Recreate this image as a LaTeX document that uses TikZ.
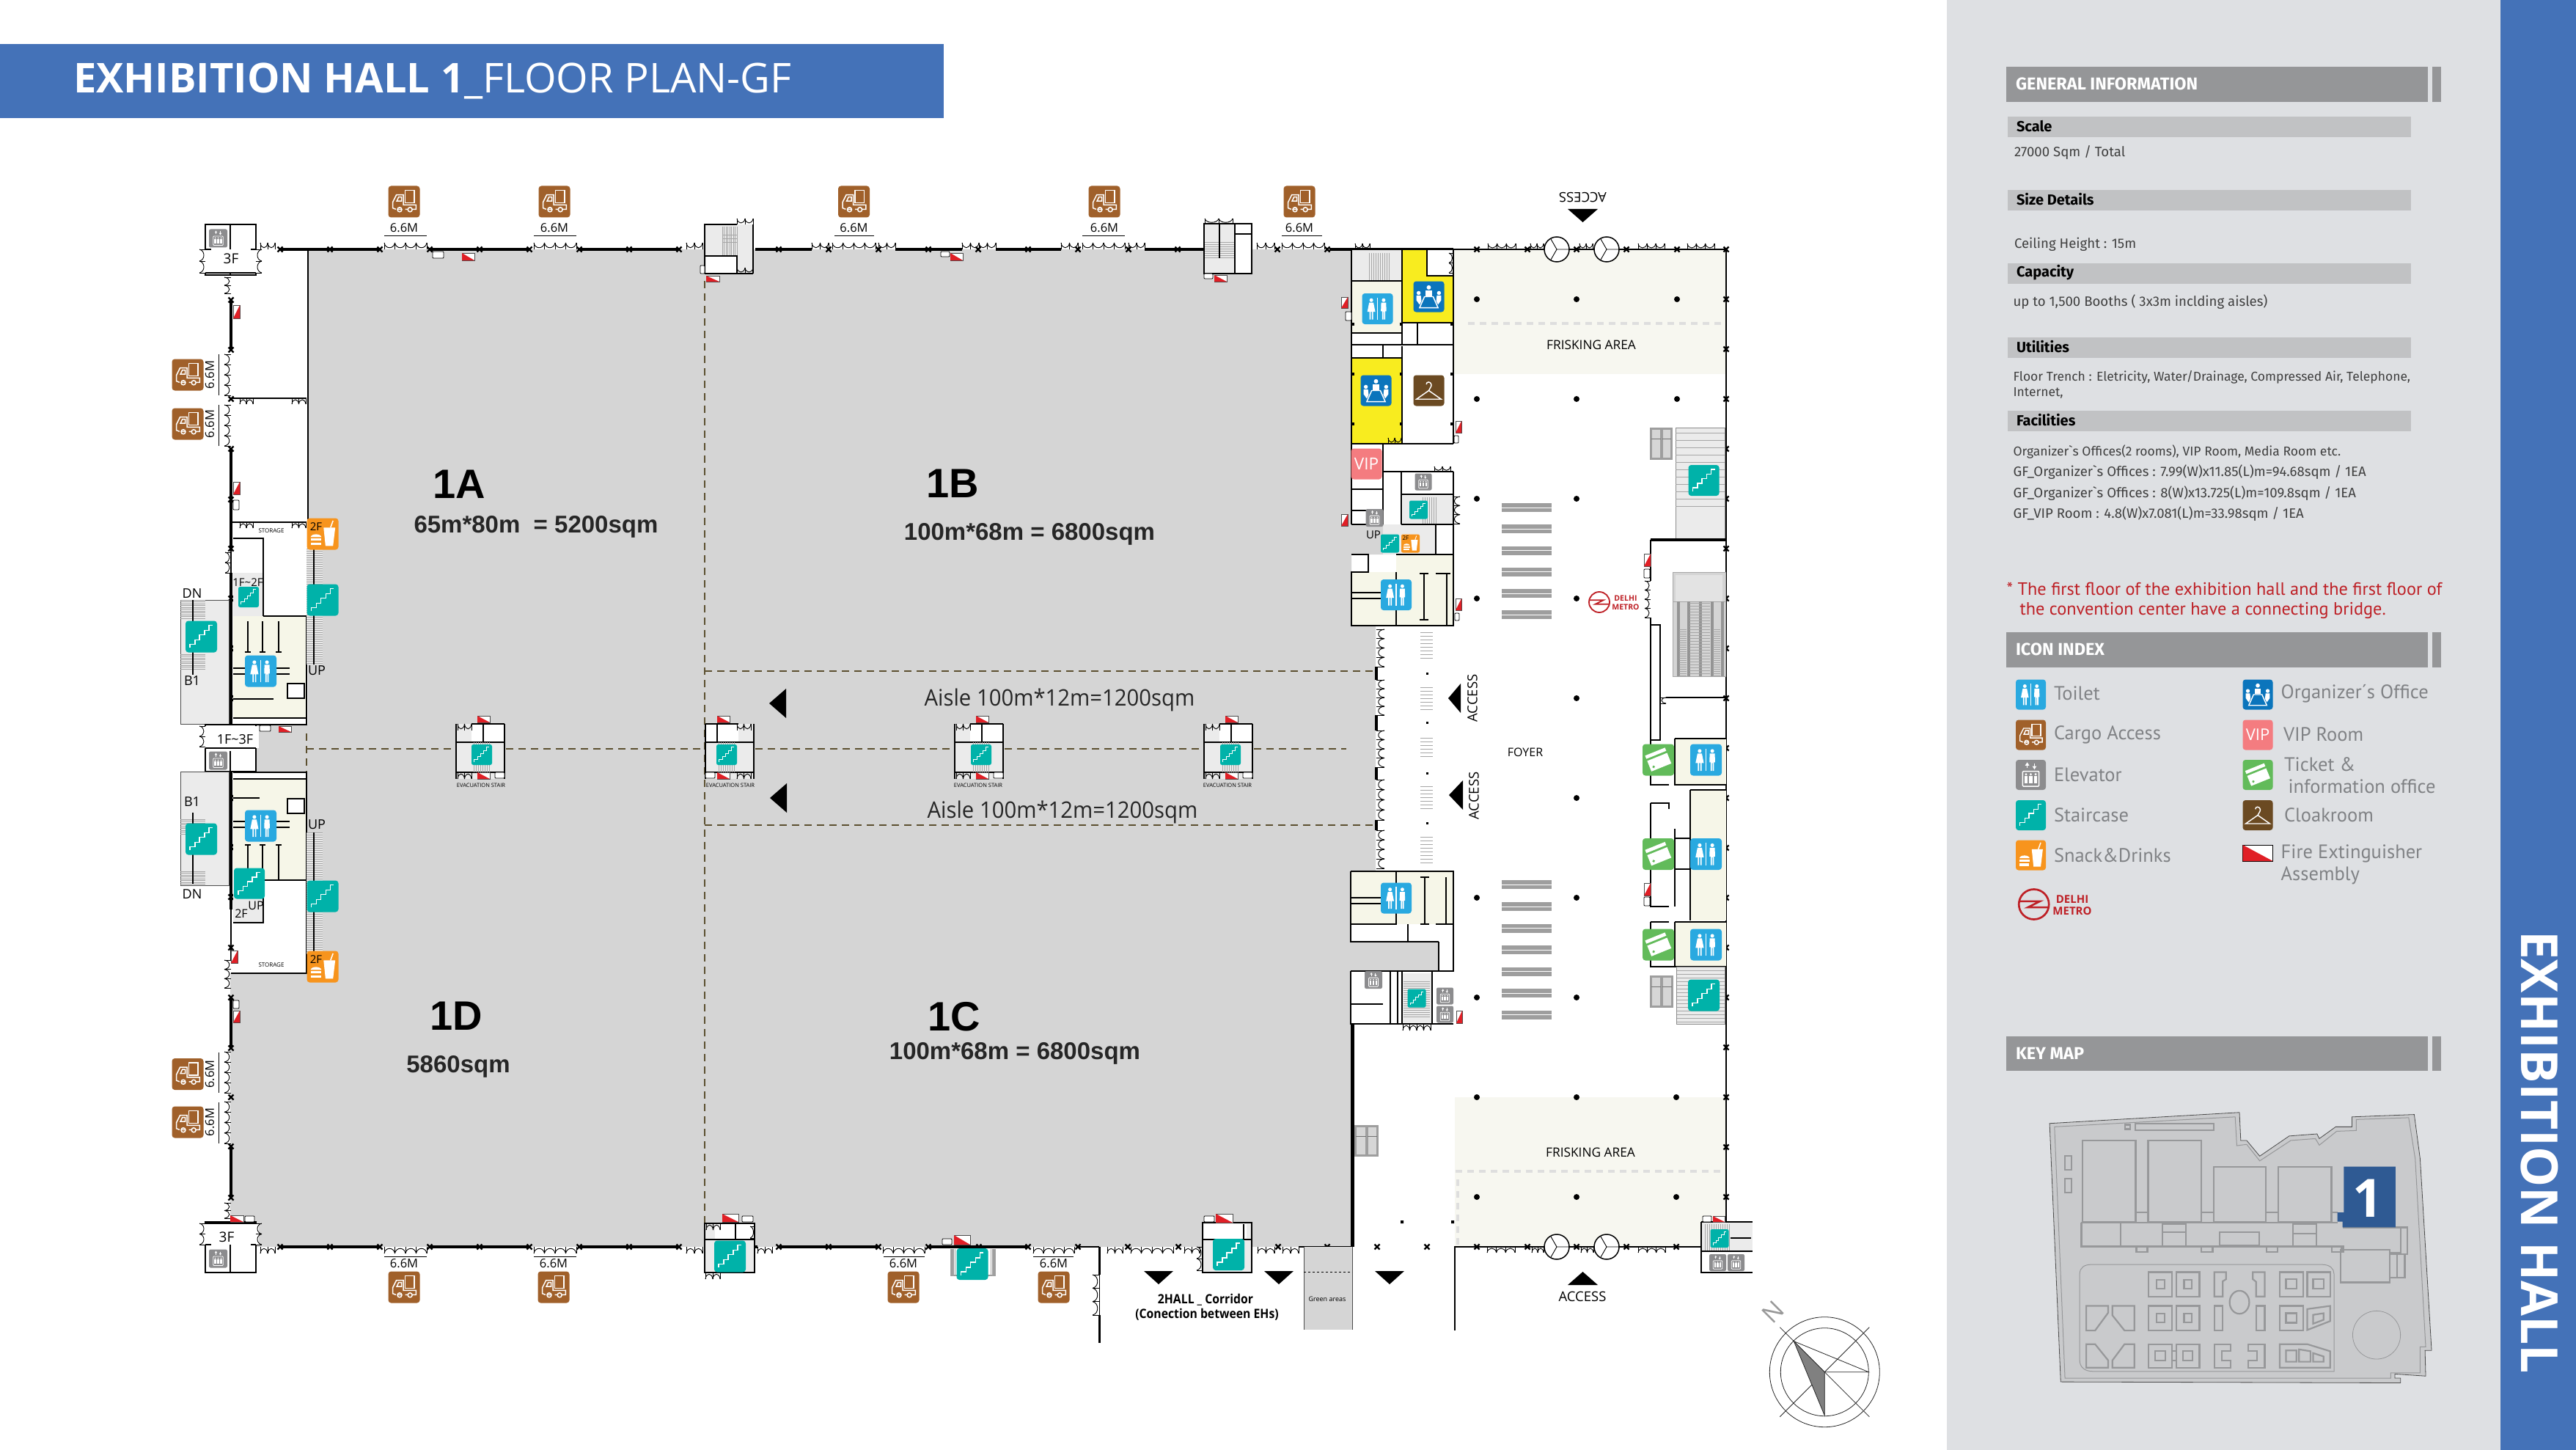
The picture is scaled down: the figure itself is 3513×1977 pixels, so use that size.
\documentclass[tikz,border=0pt]{standalone}
\usepackage{fontspec}
\setmainfont{Open Sans}
\newfontfamily\hallfont{Liberation Sans}
\newfontfamily\panelfont{Fira Sans}
\newfontfamily\notefont{PT Sans}
\usetikzlibrary{arrows}

\definecolor{barblue}{HTML}{4472B8}
\definecolor{panelgrey}{HTML}{DEE0E3}
\definecolor{headgrey}{HTML}{959698}
\definecolor{subgrey}{HTML}{C1C2C4}
\definecolor{hallgrey}{HTML}{D5D5D5}
\definecolor{paleroom}{HTML}{EBEBEB}
\definecolor{creamroom}{HTML}{F6F6E8}
\definecolor{friskcream}{HTML}{F7F7F0}
\definecolor{officeyellow}{HTML}{F8EC1F}
\definecolor{dashbrown}{HTML}{5C5030}
\definecolor{toiletblue}{HTML}{29A9E0}
\definecolor{officeblue}{HTML}{0B75BC}
\definecolor{cargobrown}{HTML}{A0602A}
\definecolor{cloakbrown}{HTML}{6B4A22}
\definecolor{lifgrey}{HTML}{8C8C8E}
\definecolor{stairteal}{HTML}{00B2A9}
\definecolor{snackorange}{HTML}{F7941D}
\definecolor{vippink}{HTML}{F47C80}
\definecolor{ticketgreen}{HTML}{62BB5A}
\definecolor{firered}{HTML}{E01F26}
\definecolor{metrored}{HTML}{BE2026}
\definecolor{mapgrey}{HTML}{C9CACC}
\definecolor{mapline}{HTML}{97989A}
\definecolor{mapblue}{HTML}{2F5A93}
\definecolor{legendtext}{HTML}{808285}

\newcommand{\fsz}[1]{\fontsize{#1}{#1}\selectfont}

\tikzset{
  wall/.style={black,line width=1.5},
  thickwall/.style={black,line width=4.5},
  doorline/.style={black,line width=.9},
  aisle/.style={dashbrown,line width=2.4,dash pattern=on 10pt off 7pt},
  frisk/.style={black!13,line width=4,dash pattern=on 9pt off 7pt},
  hatch/.style={black!35,line width=.6},
  colmark/.style={black,line width=2.2},
  plain/.style={inner sep=0pt,outer sep=0pt},
  hallname/.style={plain,font=\hallfont\bfseries\fsz{56}},
  hallsize/.style={plain,font=\hallfont\bfseries\fsz{33},text=black!85},
  aisletext/.style={plain,font=\fsz{31},xscale=.945,text=black!85},
  width66/.style={plain,font=\fsz{16.5}},
  tag/.style={plain,font=\fsz{15}},
  smalltag/.style={plain,font=\fsz{8}},
  headtext/.style={plain,anchor=west,font=\panelfont\bfseries\fsz{23.5},text=white},
  subtext/.style={plain,anchor=west,font=\panelfont\bfseries\fsz{20},text=black},
  infotext/.style={plain,anchor=west,font=\panelfont\fsz{17.5},text=black!75},
  infonum/.style={infotext,font=\panelfont\fsz{18.6}},
  legend/.style={plain,anchor=west,font=\notefont\fsz{26.5},text=legendtext},
  redtext/.style={plain,anchor=west,font=\notefont\fsz{24.3},text=metrored},
}

% tiles of the icon index, drawn in a box -.5..+.5 around the centre
\newcommand{\icontoilet}{
  \fill[toiletblue,rounded corners=\tilerad] (-.5,-.5) rectangle (.5,.5);
  \fill[white] (-.2,-.28) circle (.06) (.2,-.28) circle (.06);
  \fill[white] (-.27,-.2)--(-.13,-.2)--(-.07,.1)--(-.14,.1)--(-.14,.35)--(-.18,.35)--(-.18,.1)--(-.22,.1)--(-.22,.35)--(-.26,.35)--(-.26,.1)--(-.33,.1)--cycle;
  \fill[white] (.12,-.2)--(.28,-.2)--(.29,.08)--(.25,.08)--(.25,.35)--(.21,.35)--(.21,.1)--(.19,.1)--(.19,.35)--(.15,.35)--(.15,.08)--(.11,.08)--cycle;
  \fill[white] (-.02,-.36) rectangle (.02,.36);
}
\newcommand{\iconcargo}{
  \fill[cargobrown,rounded corners=\tilerad] (-.5,-.5) rectangle (.5,.5);
  \draw[white] (.04,-.36) rectangle (.33,.04);
  \draw[white] (-.08,.24)--(-.2,.24) (-.26,.24)--(-.36,.2)--(-.36,.02)--(-.24,-.22)--(-.02,-.22)--(-.02,.1)--(.38,.1)--(.38,.24)--(.24,.24) (.14,.24)--(.04,.24);
  \draw[white] (-.23,-.02)--(-.17,-.15)--(-.08,-.15)--(-.08,-.02)--cycle;
  \draw[white] (-.14,.25) circle (.07) (.19,.25) circle (.07);
}
\newcommand{\iconlift}{
  \fill[lifgrey,rounded corners=\tilerad] (-.5,-.5) rectangle (.5,.5);
  \draw[white,rounded corners=1pt] (-.27,-.12) rectangle (.27,.38);
  \draw[white] (-.12,-.22)--(-.12,-.38) (.12,-.38)--(.12,-.22);
  \fill[white] (-.12,-.42)--(-.19,-.31)--(-.05,-.31)--cycle (.12,-.18)--(.05,-.29)--(.19,-.29)--cycle;
  \foreach \px in {-.16,0,.16} {
    \fill[white] (\px,-.02) circle (.04);
    \fill[white] (\px-.05,.03) rectangle (\px+.05,.28);
  }
}
\newcommand{\iconstair}{
  \fill[stairteal,rounded corners=\tilerad] (-.5,-.5) rectangle (.5,.5);
  \draw[white] (-.36,.36)--(-.36,.24)--(-.2,.24)--(-.2,.1)--(-.06,.1)--(-.06,-.06)--(.1,-.06)--(.1,-.2)--(.24,-.2)--(.24,-.36)--(.36,-.36);
}
\newcommand{\iconsnack}{
  \fill[snackorange,rounded corners=\tilerad] (-.5,-.5) rectangle (.5,.5);
  \fill[white] (.03,-.2)--(.4,-.2)--(.33,.38)--(.09,.38)--cycle;
  \draw[white] (.25,-.2)--(.33,-.42);
  \fill[white] (-.38,.1) .. controls (-.36,-.02) and (-.06,-.02) .. (-.04,.1)--cycle;
  \fill[white] (-.38,.15) rectangle (-.04,.22);
  \fill[white] (-.37,.27) rectangle (-.05,.36);
}
\newcommand{\iconoffice}{
  \fill[officeblue,rounded corners=\tilerad] (-.5,-.5) rectangle (.5,.5);
  \fill[white] (0,-.3) circle (.07) (-.33,-.12) circle (.065) (.33,-.12) circle (.065);
  \fill[white] (-.1,-.2) rectangle (.1,-.02);
  \draw[white] (-.14,.0)--(.14,.0)--(.3,.36)--(-.3,.36)--cycle;
  \fill[white] (-.4,-.04)--(-.26,-.04)--(-.24,.14)--(-.3,.26)--(-.4,.12)--cycle;
  \fill[white] (.4,-.04)--(.26,-.04)--(.24,.14)--(.3,.26)--(.4,.12)--cycle;
}
\newcommand{\iconvip}{
  \fill[vippink,rounded corners=\tilerad] (-.5,-.5) rectangle (.5,.5);
  \node[plain,text=white,font=\fsz{22},scale=\tilescale] at (0,0) {VIP};
}
\newcommand{\iconticket}{
  \fill[ticketgreen,rounded corners=\tilerad] (-.5,-.5) rectangle (.5,.5);
  \begin{scope}[rotate=22]
    \fill[white] (-.34,-.28) rectangle (.34,-.17);
    \fill[white] (-.34,-.1) rectangle (.34,.26);
    \fill[ticketgreen] (-.22,.15) circle (.045);
  \end{scope}
}
\newcommand{\iconcloak}{
  \fill[cloakbrown,rounded corners=\tilerad] (-.5,-.5) rectangle (.5,.5);
  \draw[white] (0,.0)--(-.4,.28)--(.4,.28)--cycle;
  \draw[white] (0,.0) .. controls (.02,-.08) and (.1,-.12) .. (.08,-.2) .. controls (.06,-.3) and (-.08,-.3) .. (-.08,-.2);
}
\newcommand{\icon}[4]{
  \begin{scope}[shift={(#2,#3)},x=#4pt,y=-#4pt,line width=#4*0.035pt]
    \pgfmathsetlengthmacro\tilerad{#4*0.09}
    \pgfmathsetmacro\tilescale{#4/41}
    \csname icon#1\endcsname
  \end{scope}
}
% 2F lettering of the snack tiles
\newcommand{\snackfloor}[3]{\node[plain,font=\fsz{#3}] at (#1,#2) {2F};}

% fire extinguisher flags and their small boxes
\newcommand{\fireh}[4]{
  \draw[draw=black!70,fill=white,line width=.8] (#1,#2) rectangle ++(#3,#4);
  \fill[firered] (#1,#2)--(#1,#2+#4)--(#1+#3,#2+#4)--cycle;
}
\newcommand{\firev}[4]{
  \draw[draw=black!70,fill=white,line width=.8] (#1,#2) rectangle ++(#3,#4);
  \fill[firered] (#1+#3,#2)--(#1+#3,#2+#4)--(#1,#2+#4)--cycle;
}
\newcommand{\tinybox}[4]{\draw[draw=black,fill=white,line width=.9,rounded corners=1pt] (#1,#2) rectangle ++(#3,#4);}

% rows of door leaves, the cusps stand #5 off the wall
\newcommand{\doorh}[5]{
  \pgfmathsetmacro\da{#1}
  \pgfmathsetmacro\db{#2}
  \foreach \i in {1,...,#4} {
    \pgfmathsetmacro\xa{\da+(\i-1)*(\db-\da)/#4}
    \pgfmathsetmacro\xb{\da+\i*(\db-\da)/#4}
    \draw[doorline] (\xa,#3+#5) .. controls (\xa+.1*\xb-.1*\xa,#3) and (\xb-.1*\xb+.1*\xa,#3) .. (\xb,#3+#5);
    \draw[doorline] (\xa,#3)--(\xa,#3+#5);
  }
  \draw[doorline] (\db,#3)--(\db,#3+#5);
}
\newcommand{\doorv}[5]{
  \foreach \i in {1,...,#4} {
    \pgfmathsetmacro\ya{#2+(\i-1)*(#3-#2)/#4}
    \pgfmathsetmacro\yb{#2+\i*(#3-#2)/#4}
    \draw[doorline] (#1+#5,\ya) .. controls (#1,\ya+.1*\yb-.1*\ya) and (#1,\yb-.1*\yb+.1*\ya) .. (#1+#5,\yb);
    \draw[doorline] (#1,\ya)--(#1+#5,\ya);
  }
  \draw[doorline] (#1,#3)--(#1+#5,#3);
}
\newcommand{\colmarkat}[2]{\draw[colmark] (#1-3.5,#2-3.5)--(#1+3.5,#2+3.5) (#1+3.5,#2-3.5)--(#1-3.5,#2+3.5); \fill (#1-2,#2-2) rectangle ++(4,4);}
\newcommand{\hatchh}[5]{\foreach \hy in {#2,#5,...,#4} {\draw[hatch] (#1,\hy)--(#3,\hy);}}
\newcommand{\hatchv}[5]{\foreach \hx in {#1,#5,...,#3} {\draw[hatch] (\hx,#2)--(\hx,#4);}}

% a stair box standing in the aisle
\newcommand{\evacunit}[6]{
  \fill[paleroom] (#1,987) rectangle ++(66,75);
  \fill[white] (#1+#2,988) rectangle ++(45,24);
  \draw[wall] (#1+#2+16,988)--(#1+#2+16,1012);
  \draw[black,line width=2] (#1,987)--(#1,1062) (#1+66,987)--(#1+66,1062);
  \draw[black,line width=2] (#1+#2,987)--(#1+#2+45,987) (#1,1012)--(#1+66,1012);
  \draw[black,line width=2] (#1,1053)--(#1+66,1053);
  \foreach \hx in {-11,-8,...,11} {\draw[hatch] (#1+#6+\hx,1012)--(#1+#6+\hx,1053);}
  \icon{stair}{#1+#6}{1029}{28}
  \doorh{#1+#3}{#1+#3+19}{996}{2}{-9}
  \doorh{#1+#3}{#1+#3+19}{1053}{2}{9}
  \fireh{#1+#4}{976}{17}{9}
  \fireh{#1+#4}{1053}{17}{9}
  \tinybox{#1+#5}{1053}{13}{8}
}
% escalator pair in the foyer
\newcommand{\escalator}[4]{
  \fill[black!38] (#1,#2) rectangle ++(#3,#4);
  \fill[black!16] (#1+3,#2+3) rectangle ++(#3*.5-5,#4-6);
  \fill[black!16] (#1+#3*.5+2,#2+3) rectangle ++(#3*.5-5,#4-6);
  \draw[black!55,line width=.6] (#1+2,#2+#4*.35)--++(#3*.5-3,0) (#1+#3*.5+1,#2+#4*.35)--++(#3*.5-3,0);
}
\newcommand{\metromark}[3]{
  \begin{scope}[shift={(#1,#2)},x=#3pt,y=-#3pt,line width=#3*0.13pt,metrored]
    \draw (0,0) circle (1);
    \draw (-1,-.2)--(.4,-.2)--(-.4,.2)--(1,.2);
  \end{scope}
}

\begin{document}
\begin{tikzpicture}[x=1pt,y=-1pt]
\useasboundingbox (0,0) rectangle (3513,1977);
\fill[white] (0,0) rectangle (3513,1977);

% Header and side bars
\fill[barblue] (0,60) rectangle (1287,161);
\node[plain,anchor=west,text=white,font=\fsz{56}] (hallTitle) at (100,111) {\textbf{EXHIBITION HALL 1}\_FLOOR PLAN-GF};
\fill[panelgrey] (2655,0) rectangle (3410,1977);
\fill[barblue] (3410,0) rectangle (3513,1977);
\node[plain,rotate=-90,text=white,font=\bfseries\fsz{69.5}] (sideTitle) at (3463,1571) {EXHIBITION HALL};

% Hall floor
\fill[hallgrey] (420,340)--(1843,340)--(1843,715)--(1958,715)--(1958,756)--(1843,756)--(1843,853)--(1876,853)--(1876,1188)--(1842,1188)--(1842,1284)--(1962,1284)--(1962,1324)--(1842,1324)--(1842,1396)--(1844,1396)--(1844,1700)--(314,1700)--(314,1327)--(418,1327)--(418,1052)--(348,1052)--(348,988)--(420,988)--cycle;
\fill[friskcream] (1982,341) rectangle (2354,510);
\fill[friskcream] (1984,1496) rectangle (2354,1700);
\draw[frisk] (2002,441)--(2350,441);
\draw[frisk] (1985,1597)--(2347,1597);
\draw[frisk] (1988,1608)--(1988,1697);

% Aisle dashes
\draw[aisle] (961,383)--(961,1668);
\draw[aisle] (961,915)--(1876,915);
\draw[aisle] (961,1125)--(1876,1125);
\draw[aisle] (418,1021)--(1836,1021);
\draw[aisle] (418,1000)--(418,1052);

% North and south walls of the hall
\foreach \wa/\wb in {382/518,586/722,790/926,1030/1107,1221/1312,1358/1447,1561/1641,1813/1912} {\draw[thickwall] (\wa,340)--(\wb,340);}
\foreach \wa/\wb in {382/518,586/722,790/926,1029/1033,1062/1198,1266/1402} {\draw[thickwall] (\wa,1700)--(\wb,1700);}
\draw[thickwall] (315,409)--(315,477) (315,612)--(315,748) (315,781)--(315,988) (315,1052)--(315,1240) (315,1360)--(315,1429) (315,1563)--(315,1633);
\draw[wall] (315,748)--(315,781) (315,1240)--(315,1309) (1470,1700)--(1499,1700) (1771,1700)--(1844,1700);
\foreach \dx in {382,450,518,586,654,722,790,858,926,1062,1130,1198,1266,1334,1402,1470,1539,1606,1742,1810} {\colmarkat{\dx}{340}}
\foreach \dx in {382,450,518,586,654,722,790,858,926,1062,1130,1198,1266,1335,1402,1470,1538,1607,1743,1810} {\colmarkat{\dx}{1700}}
\foreach \dy in {409,477,544,612,681,748,816,884,952} {\colmarkat{315}{\dy}}
\foreach \dy in {1088,1155,1223,1292,1360,1429,1496,1563,1633} {\colmarkat{315}{\dy}}

\doorh{355}{375}{340}{2}{-9}
\doorh{524}{582}{340}{4}{-9}
\doorh{728}{786}{340}{4}{-9}
\doorh{936}{958}{340}{2}{-9}
\doorh{1107}{1130}{340}{2}{-9}
\doorh{1135}{1194}{340}{4}{-9}
\doorh{1198}{1221}{340}{2}{-9}
\doorh{1312}{1358}{340}{4}{-9}
\doorh{1447}{1470}{340}{2}{-9}
\doorh{1476}{1534}{340}{4}{-9}
\doorh{1539}{1561}{340}{2}{-9}
\doorh{1714}{1738}{340}{2}{-9}
\doorh{1748}{1806}{340}{4}{-9}
\doorh{355}{375}{1700}{2}{9}
\doorh{524}{582}{1700}{4}{9}
\doorh{728}{786}{1700}{4}{9}
\doorh{936}{958}{1700}{2}{9}
\doorh{1033}{1053}{1700}{2}{9}
\doorh{1204}{1261}{1700}{4}{9}
\doorh{1409}{1465}{1700}{4}{9}
\doorh{1510}{1531}{1700}{2}{9}
\doorh{1542}{1600}{1700}{4}{9}
\doorh{1615}{1636}{1700}{2}{9}
\doorh{1715}{1738}{1700}{2}{9}
\doorh{1749}{1771}{1700}{2}{9}
\doorv{315}{378}{400}{2}{-9}
\doorv{315}{483}{539}{4}{-9}
\doorv{315}{552}{608}{4}{-9}
\doorv{315}{753}{781}{2}{-8}
\doorv{315}{1309}{1347}{3}{-9}
\doorv{315}{1434}{1490}{4}{-9}
\doorv{315}{1502}{1559}{4}{-9}
\doorv{315}{1640}{1661}{2}{-9}

% Corner lift boxes
\foreach \cy/\cb/\ce in {306/375/325,1666/1735/1716} {
  \draw[black,line width=2.5,fill=white] (280,\cy) rectangle (349,\cb);
  \draw[wall] (314,\cy)--(314,\cb);
  \icon{lift}{297.5}{\ce}{25}
}
\fill[white] (276,340) rectangle (353,372);
\fill[white] (276,1668) rectangle (353,1697);
\draw[wall] (280,372)--(349,372) (280,340)--(288,340) (342,340)--(349,340);
\draw[wall] (280,1668)--(349,1668) (280,1697)--(288,1697) (342,1697)--(349,1697);
\doorv{280}{340}{372}{2}{-8}
\doorv{349}{340}{372}{2}{8}
\doorv{280}{1668}{1697}{2}{-8}
\doorv{349}{1668}{1697}{2}{8}
\node[tag,font=\fsz{19}] (cornerTopF) at (315,353) {3F};
\node[tag,font=\fsz{19}] (cornerLowF) at (309,1687) {3F};

% West rooms, north half
\draw[wall] (420,340)--(420,708);
\draw[wall] (315,543)--(418,543) (315,712)--(418,712);
\doorh{327}{345}{543}{2}{8}
\doorh{398}{417}{543}{2}{8}
\doorh{327}{345}{712}{2}{8}
\doorh{398}{417}{712}{2}{8}
\node[smalltag] (storeTop) at (370,723.5) {STORAGE};
\fill[paleroom] (318,781) rectangle (359,847);
\draw[wall] (318,734)--(359,734)--(359,847)--(318,847);
\node[tag,font=\fsz{15}] (stairNoteA) at (338,794) {1F\textasciitilde2F};
\icon{stair}{339}{814}{28}
\fill[creamroom] (318,840) rectangle (418,988);
\fill[white] (318,979) rectangle (418,987);
\fill[white] (392,932) rectangle (415,952);
\draw[wall] (359,840)--(418,840)--(418,988)--(318,988) (318,979)--(418,979);
\draw[wall] (392,932) rectangle (415,952);
\draw[wall] (318,953)--(373,953) (318,911)--(395,911) (318,919)--(395,919);
\foreach \lx in {338,358,380} {\draw[wall] (\lx,847)--(\lx,889) (\lx-4,889)--(\lx+4,889);}
\fill[white!70!black!30] (418,748) rectangle (440,906);
\hatchh{418}{748}{440}{906}{751}
\draw[wall] (428,748)--(428,906);
\fill[paleroom] (246,818) rectangle (312,987);
\draw[black!70,line width=.8] (246,818) rectangle (312,987);
\hatchh{246}{818}{280}{844}{820.5}
\hatchh{246}{892}{280}{912}{894.5}
\draw[wall] (263,818)--(263,920);
\icon{stair}{274.5}{868}{43}
\icon{toilet}{355.5}{915}{43}
\icon{stair}{440}{818}{43}
\icon{snack}{440}{728}{43}
\snackfloor{431}{718}{15}
\node[tag,font=\fsz{18}] (upA) at (432,914) {UP};
\node[tag,font=\fsz{18}] (dnA) at (262,809) {DN};
\node[tag,font=\fsz{18}] (bA) at (262,928) {B1};

% West rooms, middle lift box
\draw[black,line width=2.5,fill=white] (280,988) rectangle (349,1052);
\draw[wall] (314,1024)--(314,1052);
\fill[white] (276,990) rectangle (353,1020);
\draw[wall] (280,1020)--(349,1020);
\doorv{280}{990}{1018}{2}{-8}
\icon{lift}{297.5}{1037}{25}
\node[tag,font=\fsz{18}] (stairNoteB) at (320.5,1008) {1F\textasciitilde3F};

% West rooms, south half
\fill[creamroom] (318,1053) rectangle (418,1200);
\fill[white] (318,1053) rectangle (418,1062);
\fill[white] (392,1089) rectangle (415,1109);
\draw[wall] (318,1053)--(418,1053)--(418,1327)--(315,1327) (318,1062)--(418,1062);
\draw[wall] (392,1089) rectangle (415,1109);
\draw[wall] (318,1088)--(354,1088) (318,1120)--(395,1120) (318,1128)--(395,1128) (359,1200)--(418,1200);
\foreach \lx in {338,358,380} {\draw[wall] (\lx,1152)--(\lx,1200) (\lx-4,1152)--(\lx+4,1152);}
\fill[paleroom] (318,1200) rectangle (359,1258);
\draw[wall] (359,1200)--(359,1258)--(318,1258);
\fill[white!70!black!30] (418,1135) rectangle (440,1301);
\hatchh{418}{1135}{440}{1301}{1138}
\draw[wall] (428,1135)--(428,1301);
\fill[paleroom] (246,1052) rectangle (312,1207);
\draw[black!70,line width=.8] (246,1052) rectangle (312,1207);
\hatchh{246}{1117}{280}{1137}{1119.5}
\hatchh{246}{1188}{280}{1207}{1190.5}
\draw[wall] (263,1108)--(263,1205);
\icon{stair}{274.5}{1144}{43}
\icon{toilet}{355.5}{1126}{43}
\icon{stair}{340}{1204.5}{42}
\icon{stair}{440}{1222}{43}
\icon{snack}{440}{1318}{43}
\snackfloor{431}{1308}{15}
\node[tag,font=\fsz{18}] (upB) at (432,1124) {UP};
\node[tag,font=\fsz{16}] (upC) at (349,1235) {UP};
\node[tag,font=\fsz{16}] (floorB) at (329,1246) {2F};
\node[tag,font=\fsz{18}] (dnB) at (262,1219) {DN};
\node[tag,font=\fsz{18}] (bB) at (262,1093) {B1};
\node[smalltag] (storeLow) at (370,1316) {STORAGE};

% Fire points of the west side
\firev{318}{416}{9}{18}
\firev{318}{657}{9}{17}
\tinybox{318}{682}{8}{13}
\firev{315}{1296}{9}{17}
\firev{318}{1378}{9}{16}
\tinybox{318}{1364}{8}{11}
\fireh{314}{1657}{18}{9}
\tinybox{334}{1658}{13}{8}
\fireh{380}{990}{17}{8}
\tinybox{354}{989}{15}{8}

% Stair boxes of the north wall
\fill[paleroom] (961,306) rectangle (1027,373);
\fill[white] (963,349) rectangle (1005,373);
\hatchv{985}{309}{1005}{349}{987.5}
\hatchh{985}{320}{1005}{330}{325}
\draw[black,line width=2] (961,373)--(961,306)--(1005,306) (1027,306)--(1027,373) (961,373)--(1027,373) (961,349)--(1005,349)--(1005,373);
\doorh{1005}{1027}{306}{2}{-8}
\doorh{1005}{1027}{373}{2}{-8}
\fireh{963}{376}{18}{8}
\tinybox{955}{362}{6}{11}
\fill[paleroom] (1642,305) rectangle (1707,373);
\fill[white] (1685,305) rectangle (1707,373);
\hatchh{1642}{330}{1684}{352}{333}
\draw[black,line width=2] (1642,305) rectangle (1707,373);
\draw[black,line width=2] (1684,305)--(1684,373) (1684,319)--(1707,319);
\draw[wall] (1663,305)--(1663,352);
\doorh{1643}{1681}{305}{2}{-7}
\fireh{1656}{375}{17}{9}
\tinybox{1642}{373}{12}{7}
\fireh{630}{345}{17}{10}
\tinybox{590}{343}{15}{9}
\fireh{1296}{345}{17}{10}
\tinybox{1283}{343}{12}{7}

% Stair boxes of the south wall
\draw[black,line width=2,fill=paleroom] (961,1668) rectangle (1029,1735);
\fill[white] (975,1669) rectangle (1028,1690);
\draw[wall] (1003,1669)--(1003,1690);
\draw[black,line width=2] (961,1690)--(1029,1690);
\doorh{963}{982}{1668}{2}{9}
\doorv{1029}{1672}{1688}{1}{-6}
\icon{stair}{995.5}{1713}{43}
\fireh{985}{1655}{22}{11}
\tinybox{1012}{1658}{15}{8}
\doorh{962}{982}{1735}{2}{9}
\fill[black!40] (1296,1703) rectangle (1357,1740);
\fill[white] (1300,1703) rectangle (1353,1738);
\hatchv{1296}{1703}{1302}{1740}{1298}
\hatchv{1351}{1703}{1357}{1740}{1353}
\icon{stair}{1326}{1723.5}{43}
\fireh{1301}{1684}{22}{13}
\tinybox{1285}{1689}{13}{8}
\draw[black,line width=2,fill=paleroom] (1640,1667) rectangle (1707,1735);
\fill[white] (1642,1669) rectangle (1700,1690);
\draw[wall] (1640,1690)--(1707,1690) (1696,1669)--(1696,1690);
\icon{stair}{1675.5}{1710.5}{43}
\doorv{1640}{1700}{1732}{2}{-8}
\fireh{1658}{1655}{23}{12}
\tinybox{1642}{1658}{14}{8}

% Evacuation stairs on the middle aisle
\evacunit{622}{21}{2}{29}{53}{35}
\evacunit{962}{0}{43}{16}{0}{29}
\evacunit{1302}{21}{2}{29}{53}{36}
\evacunit{1642}{21}{2}{29}{53}{36}
\node[smalltag,font=\fsz{7.5}] (evacOne) at (656,1071) {EVACUATION STAIR};
\node[smalltag,font=\fsz{7.5}] (evacTwo) at (996,1071) {EVACUATION STAIR};
\node[smalltag,font=\fsz{7.5}] (evacThree) at (1334,1071) {EVACUATION STAIR};
\node[smalltag,font=\fsz{7.5}] (evacFour) at (1674,1071) {EVACUATION STAIR};

% Service block 1, north east corner
\fill[paleroom] (1844,341) rectangle (1911,383);
\hatchv{1867}{345}{1894}{383}{1870}
\fill[creamroom] (1844,383) rectangle (1912,454);
\fill[officeyellow] (1913,341)--(1946,341)--(1946,376)--(1981,376)--(1981,440)--(1913,440)--cycle;
\fill[officeyellow] (1844,488) rectangle (1912,605);
\draw[wall] (1843,341)--(1843,715) (1982,341)--(1982,605) (1912,341)--(1912,470) (1912,472)--(1912,605) (1843,605)--(1982,605);
\draw[wall] (1843,470)--(1982,470) (1843,383)--(1912,383) (1843,454)--(1912,454) (1843,488)--(1912,488) (1886,470)--(1886,488) (1933,440)--(1933,470);
\draw[wall] (1946,341)--(1946,376)--(1981,376) (1912,440)--(1982,440);
\draw[thickwall,line width=3] (1912,340)--(1982,340);
\foreach \px in {1845,1911,1980} {\foreach \py in {442,510,578} {\fill (\px-2,\py-2) rectangle ++(4,4);}}
\doorh{1848}{1868}{340}{2}{-8}
\doorv{1982}{345}{372}{2}{-6}
\doorh{1893}{1911}{605}{2}{-8}
\firev{1829}{405}{9}{15}
\tinybox{1835}{425}{8}{12}
\firev{1985}{574}{8}{16}
\tinybox{1983}{594}{6}{10}
\icon{toilet}{1878.5}{421}{42}
\icon{office}{1948.5}{404.5}{42}
\icon{office}{1876.5}{532.5}{42}
\icon{cloak}{1948.5}{532.5}{42}
\icon{vip}{1863.5}{632.5}{42}

% Service block 2, lifts and stair
\fill[paleroom] (1886,715) rectangle (1958,756);
\fill[paleroom] (1913,676) rectangle (1981,715);
\hatchv{1940}{678}{1960}{715}{1943}
\draw[wall] (1886,605)--(1886,715) (1886,643)--(1982,643) (1911,643)--(1911,715) (1843,667)--(1886,667) (1843,696)--(1886,696);
\draw[black,line width=2.2] (1911,674)--(1982,674) (1911,715)--(1982,715) (1982,643)--(1982,715) (1958,715)--(1958,756);
\draw[wall] (1843,715)--(1870,715);
\doorh{1956}{1978}{643}{2}{-7}
\doorv{1981}{677}{714}{3}{10}
\icon{lift}{1941}{657}{23}
\icon{stair}{1934.5}{695}{25}
\icon{lift}{1874.5}{706}{24}
\firev{1829}{701}{9}{16}
\node[tag] (upD) at (1873,729) {UP};
\icon{stair}{1895.5}{741}{25}
\icon{snack}{1923.5}{741}{25}
\snackfloor{1917}{734}{8}

% Service block 3, first toilets
\fill[creamroom] (1843,780) rectangle (1982,853);
\fill[creamroom] (1904,756) rectangle (1982,780);
\fill[white] (1959,715) rectangle (1981,756);
\fill[white] (1844,757) rectangle (1866,778);
\draw[wall] (1843,756)--(1866,756)--(1866,780)--(1843,780)--(1843,853)--(1982,853)--(1982,756)--(1904,756) (1959,715)--(1982,715)--(1982,756) (1959,756)--(1982,756);
\draw[wall] (1843,808)--(1884,808) (1843,816)--(1884,816) (1904,780)--(1904,853) (1942,782)--(1942,845) (1936,782)--(1948,782) (1936,845)--(1948,845) (1973,782)--(1973,853) (1958,782)--(1978,782);
\firev{1985}{816}{8}{16}
\tinybox{1984}{836}{6}{10}
\icon{toilet}{1904}{811}{42}

% East hall doors
\foreach \wa/\wb in {909/927,975/996,1046/1063,1118/1132} {\draw[thickwall] (1877,\wa)--(1877,\wb);}
\doorv{1877}{858}{909}{4}{11}
\doorv{1877}{927}{975}{4}{11}
\doorv{1877}{996}{1046}{4}{11}
\doorv{1877}{1063}{1118}{4}{11}
\doorv{1877}{1132}{1184}{4}{11}

% Service block 4, second toilets and lifts
\fill[creamroom] (1843,1188) rectangle (1982,1260);
\fill[white] (1843,1260) rectangle (1872,1284);
\fill[white] (1962,1284) rectangle (1982,1324);
\draw[wall] (1842,1188)--(1982,1188)--(1982,1324)--(1962,1324)--(1962,1284) (1842,1188)--(1842,1284)--(1962,1284) (1904,1188)--(1904,1260) (1842,1260)--(1905,1260) (1842,1224)--(1884,1224) (1842,1232)--(1884,1232) (1943,1196)--(1943,1260) (1937,1196)--(1949,1196) (1937,1260)--(1949,1260) (1972,1196)--(1972,1260) (1958,1260)--(1982,1260) (1920,1260)--(1920,1284);
\icon{toilet}{1904}{1224.5}{42}
\fill[white] (1842,1324) rectangle (1982,1396);
\fill[paleroom] (1912,1327) rectangle (1953,1396);
\hatchh{1914}{1338}{1950}{1388}{1341}
\draw[wall] (1842,1324)--(1982,1324) (1842,1324)--(1842,1396)--(1982,1396) (1896,1324)--(1896,1396) (1906,1324)--(1906,1396) (1842,1369)--(1886,1369);
\draw[black,line width=2] (1912,1324)--(1912,1396) (1953,1324)--(1953,1396);
\doorh{1913}{1951}{1396}{4}{9}
\icon{lift}{1873}{1336}{24}
\icon{stair}{1932}{1361}{25}
\icon{lift}{1970.5}{1358}{23}
\icon{lift}{1970.5}{1383}{23}
\firev{1986}{1378}{8}{17}
\draw[thickwall,line width=5] (1844,1396)--(1844,1700);
\escalator{1847}{1534}{33}{43}

% Corridor side and green area
\draw[black,line width=3] (1499,1700)--(1499,1738) (1499,1793)--(1499,1831);
\draw[black,line width=1] (1499,1738)--(1499,1793);
\doorv{1499}{1738}{1793}{3}{-9}
\fill[hallgrey] (1778,1700) rectangle (1844,1813);
\draw[black!70,line width=.8] (1778,1813)--(1778,1700) (1844,1700)--(1844,1813);
\draw[black,line width=.8,dashed] (1778,1734)--(1844,1734);
\node[plain,font=\fsz{9}] (greenArea) at (1810,1771) {Green areas};
\node[plain,font=\bfseries\fsz{17.5},xscale=.9] (corridorA) at (1644,1772) {2HALL \_ Corridor};
\node[plain,font=\bfseries\fsz{17.5},xscale=.9] (corridorB) at (1646,1792) {(Conection between EHs)};
\foreach \tri in {1560,1724,1875} {\fill (\tri,1733)--(\tri+40,1733)--(\tri+20,1751)--cycle;}
\colmarkat{1878}{1700}
\colmarkat{1946}{1700}
\fill (1910,1664) rectangle ++(4,4) (1979,1664) rectangle ++(4,4);

% Foyer walls
\draw[wall] (1982,340)--(2354,340)--(2354,1700) (1984,1814)--(1984,1700)--(2320,1700);
\foreach \dx in {2014,2083,2150,2218,2287,2354} {\colmarkat{\dx}{340}}
\foreach \dx in {2014,2083,2150,2218,2286} {\colmarkat{\dx}{1700}}
\foreach \dy in {408,476,544,612,680,748,816,884,952,1020,1088,1156,1224,1292,1360,1428,1496,1564,1632} {\colmarkat{2354}{\dy}}
\foreach \dy in {340,1700} {
  \draw[wall,fill=white] (2123,\dy) circle (17);
  \draw[wall,fill=white] (2191,\dy) circle (17);
  \foreach \rx in {2123,2191} {\draw[doorline] (\rx,\dy)--(\rx+17,\dy) (\rx,\dy)--(\rx-8,\dy-14) (\rx,\dy)--(\rx-8,\dy+14);}
}
\doorh{2029}{2067}{340}{3}{-8}
\doorh{2087}{2105}{340}{2}{-8}
\doorh{2154}{2172}{340}{2}{-8}
\doorh{2234}{2270}{340}{3}{-8}
\doorh{2301}{2338}{340}{3}{-8}
\doorh{2028}{2066}{1700}{3}{8}
\doorh{2089}{2105}{1700}{2}{8}
\doorh{2156}{2173}{1700}{2}{8}
\doorh{2234}{2271}{1700}{3}{8}
\foreach \py in {408,544,680,816} {\fill (2014,\py) circle (4);}
\foreach \py in {1224,1360,1496,1632} {\fill (2014,\py) circle (4);}
\foreach \py in {408,544,680,816,952,1088,1224,1360,1496,1632} {\fill (2150,\py) circle (4);}
\foreach \py in {408,544} {\fill (2287,\py) circle (4);}
\foreach \py in {1496,1632} {\fill (2286,\py) circle (4);}
\foreach \py in {918,985,1054,1122} {\fill (1944.5,\py-1.5) rectangle ++(3,3);}
\foreach \ha/\hb/\hc in {862/899/867,937/967/942,1006/1034/1011,1072/1103/1077,1141/1178/1146} {\hatchh{1937}{\ha}{1954}{\hb}{\hc}}
\foreach \sy in {686,715,744.5,773.5,803,832,1200,1230,1259.5,1289,1318.5,1348,1377.5} {
  \fill[black!38] (2048,\sy) rectangle ++(68,12);
  \draw[white,line width=.8] (2048,\sy+6)--(2116,\sy+6);
}
\fill (2138,285)--(2179,285)--(2158.5,303)--cycle;
\fill (2138,1752)--(2179,1752)--(2158.5,1734)--cycle;
\fill (1992,932)--(1992,972)--(1975,952)--cycle;
\fill (1995,1064)--(1995,1104)--(1976,1084)--cycle;
\fill (1072,939)--(1072,979)--(1049,959)--cycle;
\fill (1073,1068)--(1073,1108)--(1050,1088)--cycle;
\node[plain,rotate=180,font=\fsz{18.5}] (accessN) at (2158.5,269.5) {ACCESS};
\node[plain,font=\fsz{18.5}] (accessS) at (2158,1767.5) {ACCESS};
\node[plain,rotate=90,font=\fsz{18.5}] (accessW) at (2008,952) {ACCESS};
\node[plain,rotate=90,font=\fsz{18.5}] (accessX) at (2010,1085) {ACCESS};
\node[plain,font=\fsz{17.3}] (friskA) at (2170,470.5) {FRISKING AREA};
\node[plain,font=\fsz{17.3}] (friskB) at (2169,1571) {FRISKING AREA};
\node[plain,font=\fsz{16}] (foyer) at (2080,1026) {FOYER};
\metromark{2181}{821}{14}
\node[plain,text=metrored,align=center,font=\bfseries\fsz{10.5}] (metroA) at (2217,822) {DELHI\\[1pt]METRO};

% East side of the foyer
\fill[paleroom] (2285,583) rectangle (2352,734);
\draw[black!45,line width=.8] (2285,583) rectangle (2352,734);
\hatchh{2285}{590}{2352}{690}{600}
\escalator{2250}{583}{31}{44}
\draw[thickwall,line width=3.5] (2251,736)--(2354,736);
\draw[wall] (2251,736)--(2251,792) (2251,842)--(2251,1009);
\doorv{2251}{792}{842}{4}{-8}
\firev{2242}{755}{9}{17}
\tinybox{2242}{776}{8}{12}
\draw[wall] (2251,852)--(2264,852)--(2264,1009)--(2251,1009) (2272,951)--(2354,951);
\doorv{2264}{951}{959}{1}{8}
\fill[black!17] (2281,780) rectangle (2353,922);
\fill[black!11] (2285,784) rectangle (2349,820);
\draw[black!35,line width=.8] (2281,780) rectangle (2353,922) (2281,820)--(2353,820);
\foreach \bx in {2287,2301,2317,2333,2347} {\fill[black!42] (\bx,820) rectangle ++(4,102);}
\hatchh{2304}{822}{2332}{922}{826}
\hatchh{2290}{858}{2300}{922}{861}
\hatchh{2336}{858}{2346}{922}{861}
\icon{stair}{2323.5}{655}{42}

% Ticket rooms and east toilets
\fill[creamroom] (2284,1007) rectangle (2354,1070);
\fill[creamroom] (2305,1077) rectangle (2354,1255);
\fill[creamroom] (2284,1257) rectangle (2354,1318);
\draw[wall] (2251,1009)--(2251,1070)--(2276,1070) (2284,1007)--(2354,1007) (2284,1007)--(2284,1070)--(2354,1070) (2305,1077)--(2354,1077) (2305,1077)--(2305,1255);
\draw[wall] (2251,1095)--(2276,1095)--(2276,1103) (2251,1095)--(2251,1236)--(2276,1236) (2284,1143)--(2305,1143) (2284,1185)--(2305,1185) (2284,1130)--(2284,1236);
\draw[wall] (2251,1257)--(2276,1257) (2251,1257)--(2251,1318)--(2354,1318) (2284,1257)--(2284,1318) (2284,1257)--(2354,1257);
\icon{ticket}{2261.5}{1036}{43}
\icon{toilet}{2326.5}{1036}{43}
\icon{ticket}{2261.5}{1164.5}{43}
\icon{toilet}{2326.5}{1164.5}{43}
\icon{ticket}{2261.5}{1288}{43}
\icon{toilet}{2326.5}{1288}{43}
\firev{2242}{1204}{9}{17}
\tinybox{2242}{1223}{8}{12}
\fill[paleroom] (2286,1318) rectangle (2352,1396);
\hatchh{2286}{1318}{2352}{1396}{1323}
\draw[black!45,line width=.8] (2286,1318) rectangle (2352,1396);
\icon{stair}{2323.5}{1357}{43}
\escalator{2250}{1330}{32}{44}

% Stair in the south east corner
\fill[paleroom] (2320,1666) rectangle (2390,1706);
\fill[white] (2322,1706) rectangle (2388,1733);
\hatchv{2325}{1669}{2360}{1706}{2328}
\draw[black,line width=2] (2320,1666)--(2390,1666) (2320,1666)--(2320,1735)--(2390,1735) (2320,1706)--(2390,1706);
\draw[wall] (2360,1688)--(2388,1688);
\fireh{2336}{1658}{16}{8}
\tinybox{2322}{1658}{12}{8}
\icon{stair}{2345}{1688.5}{25}
\icon{lift}{2342.5}{1721.5}{23}
\icon{lift}{2367.5}{1721.5}{23}

% Door widths and cargo tiles
\foreach \ra/\rb/\rc in {524/582/551,728/786/756,1138/1192/1164.5,1476/1534/1506,1748/1803/1772} {
  \draw[black,line width=.8] (\ra,321)--(\rb,321);
  \node[width66] at (\rc,311) {6.6M};
  \icon{cargo}{\rc}{275}{43}
}
\foreach \ra/\rb/\rc in {524/582/551,728/786/755,1205/1261/1232,1409/1464/1437} {
  \draw[black,line width=.8] (\ra,1713)--(\rb,1713);
  \node[width66] at (\rc,1723) {6.6M};
  \icon{cargo}{\rc}{1755}{43}
}
\foreach \ra/\rb/\rc in {483/539/511,552/608/578,1435/1490/1464.5,1503/1559/1530} {
  \draw[black,line width=.8] (298,\ra)--(298,\rb);
  \node[width66,rotate=90] at (286,\rc) {6.6M};
  \icon{cargo}{256}{\rc}{43}
}

% Hall names
\node[hallname] (hallA) at (626.5,660) {1A};
\node[hallname] (hallB) at (1299,659) {1B};
\node[hallname] (hallC) at (1301,1386) {1C};
\node[hallname] (hallD) at (622,1385) {1D};
\node[hallsize] (sizeA) at (731,718) {65m*80m\ \ = 5200sqm};
\node[hallsize] (sizeB) at (1404,728) {100m*68m = 6800sqm};
\node[hallsize] (sizeC) at (1384,1436) {100m*68m = 6800sqm};
\node[hallsize] (sizeD) at (625,1454.5) {5860sqm};
\node[aisletext] (aisleUp) at (1445,954) {Aisle 100m*12m=1200sqm};
\node[aisletext] (aisleLow) at (1449,1107) {Aisle 100m*12m=1200sqm};

% General information panel
\foreach \ty/\tb in {91/139,862/910,1413/1460} {
  \fill[headgrey] (2736,\ty) rectangle (3311,\tb);
  \fill[headgrey] (3317,\ty) rectangle (3329,\tb);
}
\node[headtext] (headGeneral) at (2749,114) {GENERAL INFORMATION};
\node[headtext] (headIndex) at (2749,885) {ICON INDEX};
\node[headtext] (headKey) at (2749,1436) {KEY MAP};
\foreach \ty/\tl/\tn in {159/Scale/subScale,259/Size Details/subSize,359/Capacity/subCapacity,459.5/Utilities/subUtilities,560/Facilities/subFacilities} {
  \fill[subgrey] (2737.5,\ty) rectangle ++(550,28);
  \node[subtext] (\tn) at (2750,\ty+13) {\tl};
}
\node[infonum] (infoScale) at (2747,208) {27000 Sqm / Total};
\node[infonum] (infoCeil) at (2747,333) {Ceiling Height : 15m};
\node[infonum] (infoCap) at (2745.5,412) {up to 1,500 Booths ( 3x3m inclding aisles)};
\node[infotext] (infoFloor) at (2745.5,514.5) {Floor Trench : Eletricity, Water/Drainage, Compressed Air, Telephone,};
\node[infotext] (infoNet) at (2745.5,536) {Internet,};
\node[infotext] (infoRooms) at (2745.5,616) {Organizer\textasciigrave s Offices(2 rooms), VIP Room, Media Room etc.};
\node[infonum] (infoOffA) at (2745.5,644) {GF\_Organizer\textasciigrave s Offices : 7.99(W)x11.85(L)m=94.68sqm / 1EA};
\node[infonum] (infoOffB) at (2745.5,672.5) {GF\_Organizer\textasciigrave s Offices : 8(W)x13.725(L)m=109.8sqm / 1EA};
\node[infonum] (infoVip) at (2745.5,700.6) {GF\_VIP Room : 4.8(W)x7.081(L)m=33.98sqm / 1EA};
\node[redtext] (noteA) at (2736.6,803) {* The first floor of the exhibition hall and the first floor of};
\node[redtext] (noteB) at (2754.5,832) {the convention center have a connecting bridge.};

% Icon index
\icon{toilet}{2769.5}{947}{41}
\icon{cargo}{2769.5}{1002}{41}
\icon{lift}{2769.5}{1056.5}{41}
\icon{stair}{2769.5}{1111.5}{41}
\icon{snack}{2769.5}{1166}{41}
\metromark{2773.7}{1233}{20.5}
\icon{office}{3079}{947}{41}
\icon{vip}{3079}{1002}{41}
\icon{ticket}{3079}{1056.5}{41}
\icon{cloak}{3079}{1111.5}{41}
\draw[draw=black,fill=white,line width=1] (3058.5,1152) rectangle (3099.5,1174);
\fill[firered] (3058.5,1152)--(3058.5,1174)--(3099.5,1174)--cycle;
\node[legend] (legToilet) at (2801,945) {Toilet};
\node[legend] (legCargo) at (2801,1001.5) {Cargo Access};
\node[legend] (legLift) at (2801,1056) {Elevator};
\node[legend] (legStair) at (2801,1111) {Staircase};
\node[legend] (legSnack) at (2801,1166) {Snack\&Drinks};
\node[plain,text=metrored,align=center,font=\bfseries\fsz{15}] (legMetro) at (2826,1234) {DELHI\\[1pt]METRO};
\node[legend] (legOffice) at (3110.7,946) {Organizer\textasciiacute s Office};
\node[legend] (legVip) at (3114,1001) {VIP Room};
\node[legend] (legTicket) at (3115,1042) {Ticket \&};
\node[legend] (legInfo) at (3120.5,1072) {information office};
\node[legend] (legCloak) at (3115,1111) {Cloakroom};
\node[legend] (legFire) at (3110.7,1164) {Fire Extinguisher};
\node[legend] (legAssembly) at (3110.7,1194) {Assembly};

% Key map
\begin{scope}[shift={(2700,1380)},x=.4464pt,y=-.357pt]
  \draw[draw=black!70,fill=mapgrey,line width=.8] (213,425)--(793,383)--(797,490)--(815,490)--(855,550)--(945,473)--(1030,465)--(1037,483)--(1087,438)--(1137,438)--(1137,400)--(1327,391)--(1345,560)--(1380,1292)--(1360,1292)--(1362,1390)--(1268,1382)--(1268,1398)--(1285,1398)--(1285,1416)--(247,1412)--cycle;
  \draw[mapline,line width=1] (228,438)--(780,400)--(785,510)--(815,505)--(855,568)--(950,490)--(1025,483)--(1037,508)--(1090,455)--(1150,452)--(1150,410)--(1310,403)--(1330,560)--(1362,1278)--(1345,1278)--(1345,1378)--(1255,1378)--(1255,1398)--(260,1398)--cycle;
  \begin{scope}[mapline,line width=2.2]
    \draw (443,430) rectangle (460,447) (475,425) rectangle (715,450);
    \draw (260,548) rectangle (280,602) (260,636) rectangle (280,690);
    \draw (314,490) rectangle (476,800) (476,490)--(476,765)--(514,765)--(514,490) rectangle (676,800);
    \draw (676,765)--(714,765)--(714,590) rectangle (874,800) (874,765)--(912,765)--(912,590) rectangle (1074,800);
    \draw (1074,590)--(1074,765)--(1092,765);
    \draw (310,803)--(1092,803) (1108,822)--(1285,822)--(1285,920)--(1255,920) (310,803)--(310,895)--(1105,895)--(1105,915) (430,808)--(430,895) (558,808) rectangle (630,895) (558,840)--(630,840);
    \draw (732,840) rectangle (854,892) (956,808) rectangle (1028,895) (956,845)--(1028,845);
    \draw (478,895) rectangle (512,915) (677,895) rectangle (711,915) (876,895) rectangle (910,915) (1076,895) rectangle (1110,915);
    \draw (1102,908) rectangle (1252,1032) (1252,925) rectangle (1298,1015) (1285,822) rectangle (1306,925) (1275,925)--(1275,1015);
    \draw[line width=1] (305,1000) .. controls (305,975) and (320,964) .. (340,964) -- (1045,964) .. controls (1070,964) and (1082,980) .. (1082,1000) -- (1082,1372) -- (345,1372) .. controls (320,1372) and (305,1355) .. (305,1330) -- cycle;
    \foreach \bx in {516,600,916,1000} {\draw (\bx,993) rectangle (\bx+71,1086);}
    \foreach \bx in {540,624} {\draw (\bx,1022) rectangle (\bx+24,1056);}
    \foreach \bx in {935,1018} {\draw (\bx,1020) rectangle (\bx+32,1056);}
    \draw (716,993)--(752,993)--(752,1020)--(742,1028)--(742,1086)--(716,1086)--cycle (834,993)--(870,993)--(870,1086)--(844,1086)--(844,1030)--(834,1020)--cycle;
    \draw (793,1108) ellipse (30 and 44);
    \draw (325,1122)--(392,1122)--(392,1148)--(352,1216)--(325,1216)--cycle (405,1122)--(472,1122)--(472,1216)--(442,1216)--(405,1158)--cycle;
    \foreach \bx in {516,600,916} {\draw (\bx,1122) rectangle (\bx+71,1216);}
    \foreach \bx in {540,624} {\draw (\bx,1152) rectangle (\bx+24,1185);}
    \draw (935,1150) rectangle (967,1186);
    \draw (716,1122) rectangle (742,1216) (844,1122) rectangle (870,1216);
    \draw (1000,1134)--(1070,1122)--(1070,1180)--(1000,1214)--cycle (1018,1156)--(1050,1150)--(1050,1175)--(1018,1190)--cycle;
    \draw (325,1268)--(352,1268)--(392,1330)--(392,1358)--(325,1358)--cycle (442,1268)--(472,1268)--(472,1358)--(405,1358)--(405,1330)--cycle;
    \draw (516,1268) rectangle (587,1358) (600,1268) rectangle (671,1358) (587,1295) rectangle (600,1330);
    \draw (536,1295) rectangle (567,1330) (620,1295) rectangle (650,1330);
    \draw (716,1268)--(766,1268)--(766,1295)--(740,1295)--(740,1330)--(766,1330)--(766,1358)--(716,1358)--cycle;
    \draw (820,1268)--(870,1268)--(870,1358)--(820,1358)--(820,1330)--(846,1330)--(846,1295)--(820,1295)--cycle;
    \draw (916,1268)--(1000,1268)--(1070,1295)--(1070,1358)--(916,1358)--cycle (935,1292) rectangle (967,1335) (975,1288)--(1010,1295)--(1010,1335)--(975,1335)--cycle (1018,1302)--(1050,1315)--(1050,1335)--(1018,1335)--cycle;
    \draw[line width=.8] (1212,1233) ellipse (73 and 92);
  \end{scope}
  \fill[mapblue] (1112,590)--(1270,590)--(1270,822)--(1108,822)--(1108,800)--(1092,800)--(1092,765)--(1112,765)--cycle;
  \node[plain,text=white,font=\bfseries\fsz{72}] (keyOne) at (1185,712) {1};
\end{scope}

% Compass
\begin{scope}[shift={(2488.3,1870.7)},black!85,line width=.8]
  \draw (0,0) circle (75) (0,0) circle (60);
  \draw (-61,-61)--(61,61) (61,-61)--(-61,61);
  \fill[black!50] (-42,-42)--(0,0)--(0,59.3)--cycle;
  \draw (-42,-42)--(60,0)--(0,0)--(-42,-42)--(0,59.3)--(0,0);
  \node[plain,rotate=45,text=black!40,font=\fsz{34}] (northMark) at (-70,-82) {N};
\end{scope}
\end{tikzpicture}
\end{document}
